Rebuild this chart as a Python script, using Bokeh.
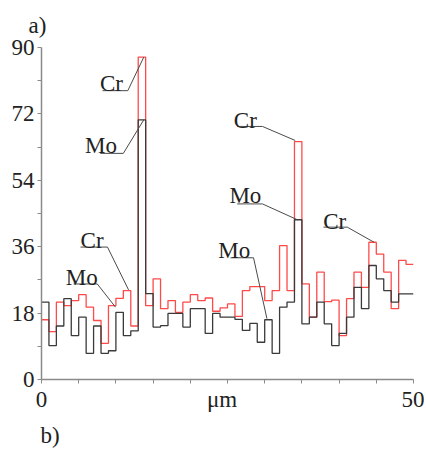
from bokeh.plotting import figure
from bokeh.models import FixedTicker, Range1d, Title, ColumnDataSource
from bokeh.core.properties import value
from bokeh.embed import file_html
from bokeh.resources import INLINE

# positions along the scan, micrometres (step edges)
x_edges = list(range(0, 51))

# Cr signal (red), one value per 1 um step
cr = [16.2, 13.0, 21.0, 20.0, 21.4, 23.0, 19.6, 16.0, 9.8, 20.0,
      22.0, 24.1, 14.5, 87.4, 20.0, 27.3, 19.2, 21.4, 18.2, 21.0,
      23.0, 21.4, 22.1, 18.5, 19.4, 20.5, 17.1, 24.1, 25.2, 25.2,
      21.4, 24.1, 36.3, 24.1, 64.5, 25.9, 16.9, 29.1, 21.1, 21.5,
      11.9, 21.9, 29.1, 25.0, 37.2, 34.0, 29.1, 19.2, 32.3, 31.2]

# Mo signal (black), one value per 1 um step
mo = [21.0, 9.2, 14.5, 21.9, 11.9, 16.9, 7.1, 14.5, 7.1, 7.8,
      18.2, 11.9, 13.2, 70.4, 23.3, 14.2, 14.6, 17.9, 17.9, 14.2,
      19.2, 19.2, 12.5, 17.9, 16.9, 16.9, 16.3, 13.3, 15.2, 10.1,
      16.2, 7.1, 19.6, 21.0, 43.3, 15.1, 16.9, 21.0, 15.1, 9.2,
      12.5, 16.9, 25.0, 19.2, 30.9, 27.3, 24.1, 21.0, 23.2, 23.2]

y_ticks = [0, 18, 36, 54, 72, 90]
y_minor = [9, 27, 45, 63, 81]
x_label_ticks = [0, 24.26, 50]
x_label_text = {0: "0", 24.26: "\u03bcm", 50: "50"}
x_tick_marks = [0, 5, 10, 15, 20, 25, 30, 35, 40, 45, 50]

# annotation labels
ann_text = ["Cr", "Mo", "Cr", "Mo", "Mo", "Mo", "Cr", "Cr"]
ann_x = [9.4, 8.0, 6.8, 5.4, 25.9, 27.4, 27.4, 39.4]
ann_y = [80.2, 63.4, 37.7, 27.6, 35.0, 49.9, 70.2, 42.8]
under_x0 = [8.2, 7.9, 5.24, 4.3, 25.4, 26.3, 26.3, 37.9]
under_x1 = [11.6, 11.0, 8.87, 7.5, 28.5, 29.7, 29.7, 41.1]
under_y = [78.3, 61.3, 35.9, 25.9, 33.0, 47.6, 68.6, 41.3]
target_x = [13.75, 13.75, 11.7, 9.95, 30.3, 34.4, 34.1, 44.7]
target_y = [87.4, 70.4, 24.3, 19.6, 16.5, 43.3, 64.8, 37.2]

FONT = "Liberation Serif"
W, H = 424, 455

p = figure(width=W, height=H, x_range=Range1d(0, 50), y_range=Range1d(0, 90),
           output_backend="svg", toolbar_location=None,
           min_border_left=41, min_border_top=47, min_border_bottom=H - 379,
           min_border_right=W - 413)
p.xgrid.visible = False
p.ygrid.visible = False
p.outline_line_color = None
p.background_fill_color = "white"
p.border_fill_color = "white"

p.step(x_edges, cr + [cr[-1]], mode="after", line_color="#ff4a4a", line_width=1.3)
p.step(x_edges, mo + [mo[-1]], mode="after", line_color="#3a3a3a", line_width=1.3)

xs = [[a, b, c] for a, b, c in zip(under_x0, under_x1, target_x)]
ys = [[u, u, t] for u, t in zip(under_y, target_y)]
p.multi_line(xs, ys, line_color="#4a4a4a", line_width=1)

src = ColumnDataSource(dict(x=ann_x, y=ann_y, t=ann_text))
p.text(x="x", y="y", text="t", source=src, text_font=value(FONT),
       text_font_size="23px", text_align="center", text_baseline="alphabetic",
       text_color="#222222")

for ax in (p.xaxis[0], p.yaxis[0]):
    ax.axis_line_color = "#8a8a8a"
    ax.axis_line_width = 1.5
    ax.major_tick_line_color = "#8a8a8a"
    ax.minor_tick_line_color = "#8a8a8a"
    ax.major_tick_out = 4
    ax.major_tick_in = 0
    ax.minor_tick_out = 4
    ax.minor_tick_in = 0
    ax.major_label_text_font = FONT
    ax.major_label_text_font_size = "23px"
    ax.major_label_text_color = "#222222"
    ax.major_label_standoff = 3

p.yaxis[0].ticker = FixedTicker(ticks=y_ticks, minor_ticks=y_minor)
p.xaxis[0].ticker = FixedTicker(ticks=x_label_ticks, minor_ticks=x_tick_marks)
p.xaxis[0].major_label_overrides = x_label_text
p.xaxis[0].major_tick_line_color = None

p.title.text = "a)"
p.title.align = "left"
p.title.offset = -13
p.title.text_font = FONT
p.title.text_font_size = "23px"
p.title.text_font_style = "normal"
p.title.text_color = "#222222"
p.title.standoff = 20

p.add_layout(Title(text="b)", align="left", offset=-1, text_font=FONT,
                   text_font_size="23px", text_font_style="normal",
                   text_color="#222222", standoff=12), "below")

open("out.html", "w").write(file_html(p, INLINE))
